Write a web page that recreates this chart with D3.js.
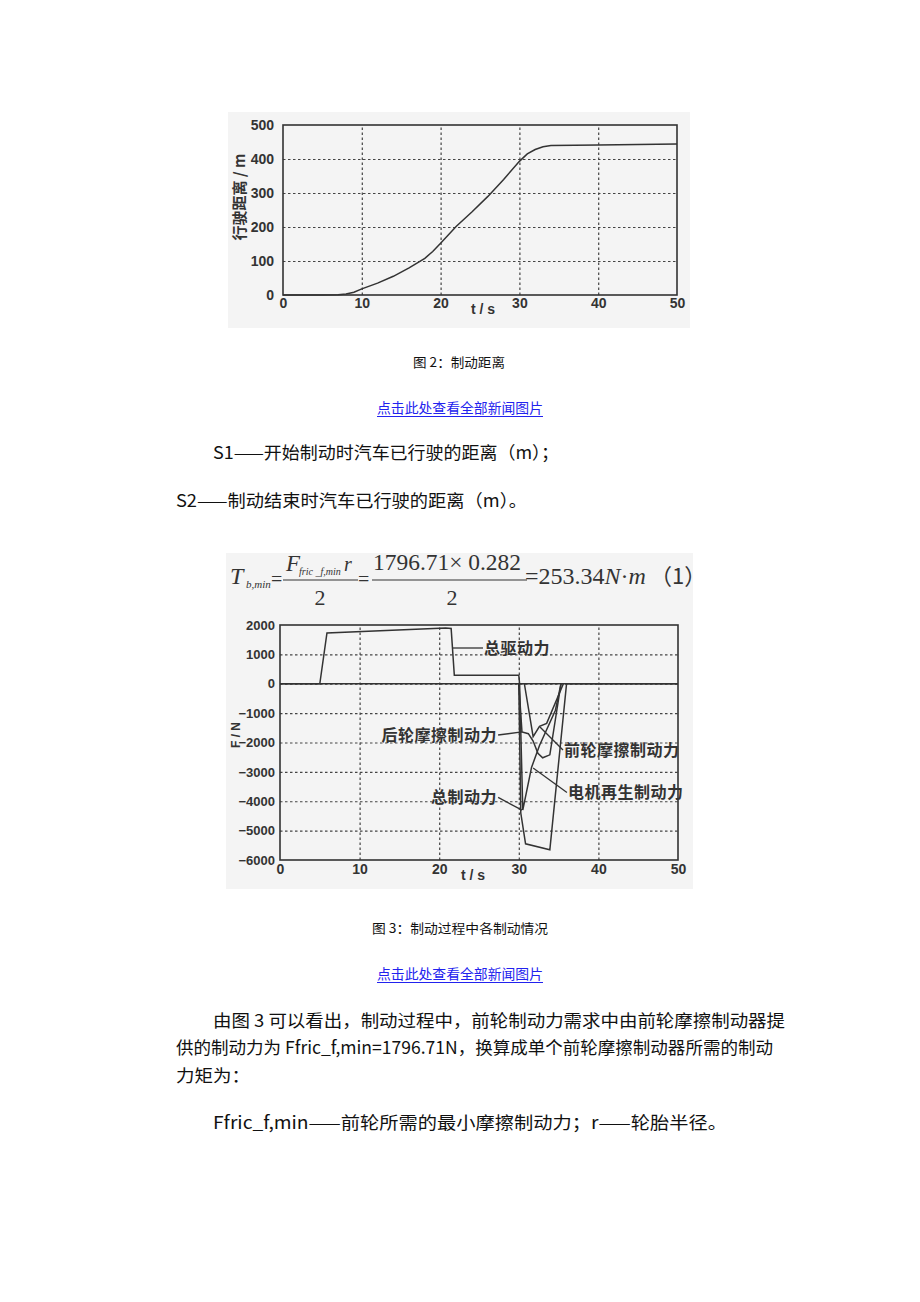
<!DOCTYPE html>
<html><head><meta charset="utf-8">
<script src="https://cdn.jsdelivr.net/npm/d3@7/dist/d3.min.js"></script>
<style>body{margin:0;background:#fff;}</style></head>
<body>
<svg id="s" width="920" height="1302"></svg>
<script>
// ---------- Figure 2 data: braking distance ----------
const distTime  = [0, 5, 7, 8, 9, 10, 12, 14, 16, 18, 19, 20, 22, 24, 26, 28, 30, 31, 32, 33, 34, 40, 50];
const distValue = [0, 0, 1, 3, 8, 18, 35, 55, 80, 108, 128, 152, 202, 245, 290, 340, 393, 415, 428, 436, 440, 441, 444];
const distXTicks = [0, 10, 20, 30, 40, 50];
const distYTicks = [0, 100, 200, 300, 400, 500];

// ---------- Figure 3 data: forces ----------
const forceXTicks = [0, 10, 20, 30, 40, 50];
const forceYTicks = [2000, 1000, 0, -1000, -2000, -3000, -4000, -5000, -6000];
const driveTime  = [0, 5, 5.9, 20.8, 21.5, 21.9, 30, 30.1, 50];
const driveForce = [0, 0, 1730, 1900, 1880, 290, 290, 0, 0];
const totalTime  = [0, 30, 30.25, 30.85, 33.9, 36, 50];
const totalForce = [0, 0, -4400, -5450, -5650, 0, 0];
const frontTime  = [30.7, 31.8, 32.6, 33.5, 35.6];
const frontForce = [0, -1800, -1450, -1350, 0];
const rearTime   = [30, 30.4, 31.2, 31.8, 32.4, 33.0, 33.9, 35.3];
const rearForce  = [0, -1640, -1700, -1950, -2370, -2520, -2420, 0];
const motorTime  = [30.1, 30.5, 31.6, 32.6, 34.6, 35.3];
const motorForce = [0, -4300, -2850, -2100, -900, 0];

const labelText  = ["总驱动力", "后轮摩擦制动力", "前轮摩擦制动力", "电机再生制动力", "总制动力"];
const labelTime  = [25.5, 27.4, 35.55, 36.05, 27.4];
const labelForce = [1217, -1745, -2255, -3700, -3870];
const labelAnchor = ["start", "end", "start", "start", "end"];
const leaderTime  = [21.67, 30.4, 32.66, 31.8, 30.4];
const leaderForce = [1217, -1640, -1470, -2870, -4300];

const svg = d3.select("#s");
svg.append("rect").attr("width",920).attr("height",1302).attr("fill","#fff");

const INK = "#333";
const GRID = "#444";

// ================= Figure 2 =================
svg.append("rect").attr("x",228).attr("y",112).attr("width",462).attr("height",216).attr("fill","#f4f4f4");
const x1 = d3.scaleLinear().domain([0,50]).range([283,677]);
const y1 = d3.scaleLinear().domain([0,500]).range([295,125]);
const g1 = svg.append("g");

// grid
g1.append("g").attr("transform","translate(0,295)")
  .call(d3.axisBottom(x1).tickValues(distXTicks.slice(1,-1)).tickSize(-(295-125)).tickFormat(""))
  .call(g=>g.select(".domain").remove())
  .selectAll("line").attr("stroke",GRID).attr("stroke-width",1.2).attr("stroke-dasharray","2.5,2.5");
g1.append("g").attr("transform","translate(283,0)")
  .call(d3.axisLeft(y1).tickValues(distYTicks.slice(1,-1)).tickSize(-(677-283)).tickFormat(""))
  .call(g=>g.select(".domain").remove())
  .selectAll("line").attr("stroke",GRID).attr("stroke-width",1.2).attr("stroke-dasharray","2.5,2.5");
// tick labels
g1.append("g").attr("transform","translate(283,0)")
  .call(d3.axisLeft(y1).tickValues(distYTicks).tickSize(0).tickPadding(9))
  .call(g=>g.select(".domain").remove())
  .selectAll("text").attr("font-family","Liberation Sans, Arial").attr("font-size",14).attr("font-weight","bold").attr("fill",INK);
g1.append("g").attr("transform","translate(0,295)")
  .call(d3.axisBottom(x1).tickValues(distXTicks).tickSize(0).tickPadding(3))
  .call(g=>g.select(".domain").remove())
  .selectAll("text").attr("font-family","Liberation Sans, Arial").attr("font-size",14).attr("font-weight","bold").attr("fill",INK);
// frame
g1.append("rect").attr("x",283).attr("y",125).attr("width",394).attr("height",170)
  .attr("fill","none").attr("stroke",INK).attr("stroke-width",1.6);
// line
const line1 = d3.line().x((d,i)=>x1(distTime[i])).y(d=>y1(d));
g1.append("path").attr("d",line1(distValue)).attr("fill","none").attr("stroke",INK).attr("stroke-width",1.5);
// axis titles
g1.append("text").attr("x",483).attr("y",314).attr("text-anchor","middle")
  .attr("font-family","Liberation Sans, Arial").attr("font-size",14).attr("font-weight","bold").attr("fill",INK).text("t / s");
g1.append("text").attr("transform","translate(245,197) rotate(-90)").attr("text-anchor","middle")
  .attr("font-family","Noto Sans CJK SC").attr("font-size",15).attr("font-weight","bold").attr("fill",INK).text("行驶距离 / m");

// ================= Text between =================
const cjk = "Noto Sans CJK SC";
function para(x,y,size,str,len,color){
  const t = svg.append("text").attr("x",x).attr("y",y).attr("font-family",cjk).attr("font-size",size)
    .attr("fill",color||"#111").text(str);
  if(len) t.attr("textLength",len).attr("lengthAdjust","spacingAndGlyphs");
  return t;
}
para(413,367,13,"图 2：制动距离",92);
para(377,413,13.5,"点击此处查看全部新闻图片",166,"#2222ee");
svg.append("line").attr("x1",377).attr("x2",543).attr("y1",416.5).attr("y2",416.5).attr("stroke","#2222ee").attr("stroke-width",1);
para(213,459,17.5,"S1——开始制动时汽车已行驶的距离（m）；",346);
para(176,507,17.5,"S2——制动结束时汽车已行驶的距离（m）。",351);

// ================= Figure 3 =================
svg.append("rect").attr("x",226).attr("y",553).attr("width",467).attr("height",336).attr("fill","#f4f4f4");
// formula
const serif = "Liberation Serif, Times New Roman";
const fg = svg.append("g").attr("font-family",serif).attr("fill",INK);
fg.append("text").attr("x",230).attr("y",584).attr("font-size",24).attr("font-style","italic").text("T");
fg.append("text").attr("x",246).attr("y",588).attr("font-size",11).attr("font-style","italic").text("b,min");
fg.append("text").attr("x",271).attr("y",586).attr("font-size",20).text("=");
fg.append("text").attr("x",286).attr("y",571).attr("font-size",23).attr("font-style","italic").text("F");
fg.append("text").attr("x",299).attr("y",575).attr("font-size",10).attr("font-style","italic").text("fric _f,min");
fg.append("text").attr("x",344).attr("y",571).attr("font-size",20).attr("font-style","italic").text("r");
fg.append("line").attr("x1",283).attr("x2",358).attr("y1",580).attr("y2",580).attr("stroke",INK).attr("stroke-width",1);
fg.append("text").attr("x",320).attr("y",605).attr("font-size",22).attr("text-anchor","middle").text("2");
fg.append("text").attr("x",358).attr("y",586).attr("font-size",20).text("=");
fg.append("text").attr("x",373).attr("y",570).attr("font-size",23).attr("textLength",148).attr("lengthAdjust","spacingAndGlyphs").text("1796.71× 0.282");
fg.append("line").attr("x1",372).attr("x2",527).attr("y1",580).attr("y2",580).attr("stroke",INK).attr("stroke-width",1);
fg.append("text").attr("x",452).attr("y",605).attr("font-size",22).attr("text-anchor","middle").text("2");
const res = fg.append("text").attr("x",525).attr("y",584).attr("font-size",24);
res.append("tspan").text("=253.34");
res.append("tspan").attr("font-style","italic").text("N");
res.append("tspan").text("·");
res.append("tspan").attr("font-style","italic").text("m");
fg.append("text").attr("x",650).attr("y",584).attr("font-size",22).attr("font-family",cjk).text("（1）");

const x2 = d3.scaleLinear().domain([0,50]).range([280,678]);
const y2 = d3.scaleLinear().domain([-6000,2000]).range([860,625]);
const g2 = svg.append("g");
g2.append("g").attr("transform","translate(0,860)")
  .call(d3.axisBottom(x2).tickValues(forceXTicks.slice(1,-1)).tickSize(-(860-625)).tickFormat(""))
  .call(g=>g.select(".domain").remove())
  .selectAll("line").attr("stroke",GRID).attr("stroke-width",1.2).attr("stroke-dasharray","2.5,2.5");
g2.append("g").attr("transform","translate(280,0)")
  .call(d3.axisLeft(y2).tickValues(forceYTicks.slice(1,-1)).tickSize(-(678-280)).tickFormat(""))
  .call(g=>g.select(".domain").remove())
  .selectAll("line").attr("stroke",GRID).attr("stroke-width",1.2).attr("stroke-dasharray","2.5,2.5");
g2.append("g").attr("transform","translate(280,0)")
  .call(d3.axisLeft(y2).tickValues(forceYTicks).tickSize(0).tickPadding(5).tickFormat(d3.format("d")))
  .call(g=>g.select(".domain").remove())
  .selectAll("text").attr("font-family","Liberation Sans, Arial").attr("font-size",13).attr("font-weight","bold").attr("fill",INK);
g2.append("g").attr("transform","translate(0,860)")
  .call(d3.axisBottom(x2).tickValues(forceXTicks).tickSize(0).tickPadding(4))
  .call(g=>g.select(".domain").remove())
  .selectAll("text").attr("font-family","Liberation Sans, Arial").attr("font-size",14).attr("font-weight","bold").attr("fill",INK);
g2.append("rect").attr("x",280).attr("y",625).attr("width",398).attr("height",235)
  .attr("fill","none").attr("stroke",INK).attr("stroke-width",1.6);
g2.append("text").attr("x",473).attr("y",880).attr("text-anchor","middle")
  .attr("font-family","Liberation Sans, Arial").attr("font-size",14).attr("font-weight","bold").attr("fill",INK).text("t / s");
g2.append("text").attr("transform","translate(240,735) rotate(-90)").attr("text-anchor","middle")
  .attr("font-family","Liberation Sans, Arial").attr("font-size",12).attr("font-weight","bold").attr("fill",INK).text("F / N");

function seriesLine(ts, vs){
  return d3.line().x((d,i)=>x2(ts[i])).y(d=>y2(d))(vs);
}
[[driveTime,driveForce],[totalTime,totalForce],[frontTime,frontForce],[rearTime,rearForce],[motorTime,motorForce]]
  .forEach(([t,v])=>{
    g2.append("path").attr("d",seriesLine(t,v)).attr("fill","none").attr("stroke",INK).attr("stroke-width",1.5);
  });

// annotations
labelText.forEach((txt,i)=>{
  const lx = x2(labelTime[i]), ly = y2(labelForce[i]);
  g2.append("line").attr("x1",lx).attr("y1",ly).attr("x2",x2(leaderTime[i])).attr("y2",y2(leaderForce[i]))
    .attr("stroke",INK).attr("stroke-width",1.3);
  g2.append("text").attr("x",lx + (labelAnchor[i]==="start"?1:-1)).attr("y",ly+6)
    .attr("text-anchor",labelAnchor[i]).attr("font-family",cjk).attr("font-size",16).attr("font-weight","bold")
    .attr("letter-spacing",0.5).attr("fill",INK).text(txt);
});

// ================= Text after =================
para(372,933,13,"图 3：制动过程中各制动情况",176);
para(377,979,13.5,"点击此处查看全部新闻图片",166,"#2222ee");
svg.append("line").attr("x1",377).attr("x2",543).attr("y1",982.5).attr("y2",982.5).attr("stroke","#2222ee").attr("stroke-width",1);
para(213,1027,17.5,"由图 3 可以看出，制动过程中，前轮制动力需求中由前轮摩擦制动器提",572);
para(176,1054,17.5,"供的制动力为 Ffric_f,min=1796.71N，换算成单个前轮摩擦制动器所需的制动",597);
para(176,1082,17.5,"力矩为：",74);
para(213,1129,17.5,"Ffric_f,min——前轮所需的最小摩擦制动力；r——轮胎半径。",514);
</script>
</body></html>
